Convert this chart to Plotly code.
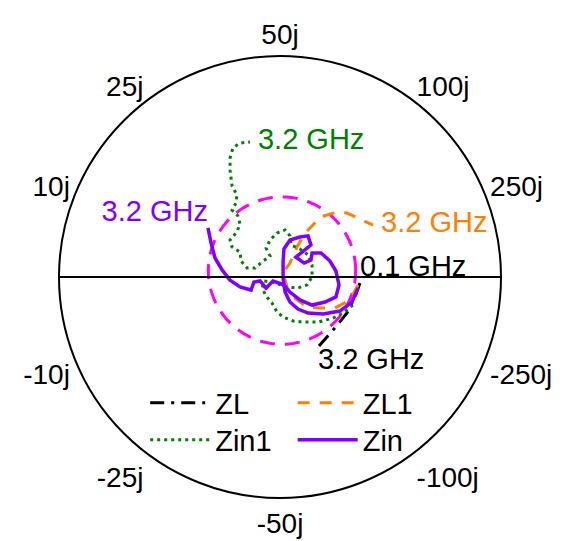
import numpy as np
import plotly.graph_objects as go

Z0 = 50  # reference impedance, ohms

# Reflection-coefficient traces (real, imag), swept 0.1 GHz -> 3.2 GHz
zl_re = [0.362, 0.339, 0.303, 0.240, 0.172]
zl_im = [-0.027, -0.090, -0.163, -0.240, -0.317]

zl1_re = [0.353, 0.317, 0.249, 0.181, 0.122, 0.059, 0.032, 0.014, 0.045,
          0.077, 0.113, 0.149, 0.181, 0.258, 0.303, 0.371, 0.421]
zl1_im = [-0.036, -0.104, -0.140, -0.140, -0.136, -0.090, -0.045, 0.018, 0.063,
          0.136, 0.199, 0.235, 0.271, 0.294, 0.290, 0.258, 0.235]

zin1_re = [0.330, 0.285, 0.240, 0.172, 0.104, 0.059, 0.014, -0.014, -0.036,
           -0.063, -0.081, -0.072, -0.036, 0.032, 0.081, 0.122, 0.145, 0.145,
           0.127, 0.090, 0.050, 0.045, 0.023, -0.014, -0.045, -0.063, -0.045,
           -0.081, -0.113, -0.149, -0.176, -0.181, -0.217, -0.226, -0.195,
           -0.181, -0.190, -0.217, -0.199, -0.195, -0.217, -0.226, -0.226,
           -0.213, -0.181, -0.136]
zin1_im = [-0.127, -0.163, -0.186, -0.204, -0.204, -0.199, -0.181, -0.158,
           -0.118, -0.086, -0.050, -0.018, -0.023, -0.045, -0.050, -0.036,
           0.000, 0.054, 0.100, 0.127, 0.145, 0.186, 0.213, 0.199, 0.167,
           0.131, 0.095, 0.068, 0.041, 0.041, 0.072, 0.113, 0.136, 0.167,
           0.204, 0.240, 0.276, 0.303, 0.335, 0.371, 0.412, 0.484, 0.538,
           0.584, 0.606, 0.611]

zin_re = [0.353, 0.326, 0.271, 0.195, 0.127, 0.081, 0.045, 0.023, 0.014,
          0.014, 0.018, 0.045, 0.090, 0.127, 0.140, 0.100, 0.072, 0.109,
          0.140, 0.145, 0.186, 0.226, 0.253, 0.267, 0.253, 0.204, 0.145,
          0.090, 0.045, 0.009, -0.032, -0.063, -0.090, -0.118, -0.131,
          -0.181, -0.226, -0.262, -0.294, -0.312, -0.326]
zin_im = [-0.050, -0.113, -0.154, -0.167, -0.163, -0.145, -0.113, -0.068,
          -0.005, 0.068, 0.127, 0.167, 0.181, 0.186, 0.145, 0.113, 0.090,
          0.063, 0.077, 0.109, 0.109, 0.072, 0.027, -0.036, -0.090, -0.113,
          -0.127, -0.104, -0.068, -0.032, -0.018, -0.050, -0.018, -0.023,
          -0.059, -0.045, -0.014, 0.032, 0.086, 0.154, 0.222]

# Constant-VSWR reference circle (VSWR = 2)
vswr_center = (0.009, 0.029)
vswr_radius = 1 / 3

# Reactance ticks in ohms (both halves of the chart)
react_ohms = [10, 25, 50, 100, 250]
react_labels = ["10j", "25j", "50j", "100j", "250j"]


def to_z(g_re, g_im):
    g = np.asarray(g_re) + 1j * np.asarray(g_im)
    z = (1 + g) / (1 - g)
    return z.real, z.imag


FONT = "Liberation Sans, Arial, sans-serif"
fs = 29
CLEAR = "rgba(0,0,0,0)"

fig = go.Figure()

t = np.linspace(0, 2 * np.pi, 200)
cr, ci = to_z(vswr_center[0] + vswr_radius * np.cos(t),
              vswr_center[1] + vswr_radius * np.sin(t))
fig.add_trace(go.Scattersmith(real=cr, imag=ci, mode="lines", showlegend=False,
                              line=dict(color="#ff00ff", width=3, dash="15px,10px"),
                              hoverinfo="skip"))

# name, data, line style, legend slot (2 x 2 key grid)
series = [
    ("ZL", zl_re, zl_im, dict(color="black", width=3, dash="14px,7px,3px,7px"), "legend"),
    ("ZL1", zl1_re, zl1_im, dict(color="#ff8000", width=3, dash="12px,10px"), "legend2"),
    ("Zin1", zin1_re, zin1_im, dict(color="#008000", width=3, dash="3px,4px"), "legend3"),
    ("Zin", zin_re, zin_im, dict(color="#7f00ff", width=3.5), "legend4"),
]
for name, gr, gi, ln, lg in series:
    r, x = to_z(gr, gi)
    fig.add_trace(go.Scattersmith(real=r, imag=x, mode="lines", name=name,
                                  line=ln, legend=lg))

# Frequency labels at the sweep end points
marks = [
    (zl_re[0], zl_im[0], "0.1 GHz", "top right", "black"),
    (zl_re[-1], zl_im[-1], "3.2 GHz", "bottom right", "black"),
    (zl1_re[-1], zl1_im[-1], " 3.2 GHz", "middle right", "#ff8000"),
    (zin1_re[-1], zin1_im[-1], " 3.2 GHz", "middle right", "#008000"),
    (zin_re[-1], zin_im[-1], "3.2 GHz", "top left", "#7f00ff"),
]
for gr, gi, txt, pos, col in marks:
    r, x = to_z([gr], [gi])
    fig.add_trace(go.Scattersmith(real=r, imag=x, mode="text", text=[txt],
                                  textposition=pos, showlegend=False,
                                  textfont=dict(size=fs, color=col, family=FONT),
                                  hoverinfo="skip"))

alias = {}
for v, lab in zip(react_ohms, react_labels):
    s = f"{v / Z0:g}"
    for k in (s, s + "j"):
        alias[k] = lab
        alias["−" + k] = "-" + lab
        alias["-" + k] = "-" + lab

tick_vals = [-v / Z0 for v in react_ohms[::-1]] + [v / Z0 for v in react_ohms]

legend_style = dict(orientation="v", yanchor="middle", xanchor="left",
                    itemwidth=60, bgcolor=CLEAR, tracegroupgap=0,
                    font=dict(size=fs, family=FONT))
col_x = [0.257, 0.518]
row_y = [(541 - 403) / 541, (541 - 440) / 541]

fig.update_layout(
    width=565, height=541,
    margin=dict(l=0, r=0, t=0, b=0),
    paper_bgcolor="white",
    font=dict(family=FONT, size=fs, color="black"),
    smith=dict(
        domain=dict(x=[59 / 565, 501 / 565], y=[42 / 541, 486 / 541]),
        bgcolor="white",
        realaxis=dict(showgrid=False, showticklabels=False, ticks="",
                      showline=True, linecolor="black", linewidth=2),
        imaginaryaxis=dict(showgrid=False, tickvals=tick_vals,
                           ticks="outside", ticklen=0, tickcolor=CLEAR,
                           showline=True, linecolor="black", linewidth=2,
                           tickfont=dict(size=28, family=FONT, color="black"),
                           labelalias=alias),
    ),
    legend=dict(x=col_x[0], y=row_y[0], **legend_style),
    legend2=dict(x=col_x[1], y=row_y[0], **legend_style),
    legend3=dict(x=col_x[0], y=row_y[1], **legend_style),
    legend4=dict(x=col_x[1], y=row_y[1], **legend_style),
    # blank out the infinity mark at the right end of the real axis
    shapes=[dict(type="rect", xref="paper", yref="paper", layer="above",
                 x0=505 / 565, x1=1.0, y0=(541 - 298) / 541, y1=(541 - 258) / 541,
                 fillcolor="white", line=dict(width=0))],
)

fig.write_html("out.html")
